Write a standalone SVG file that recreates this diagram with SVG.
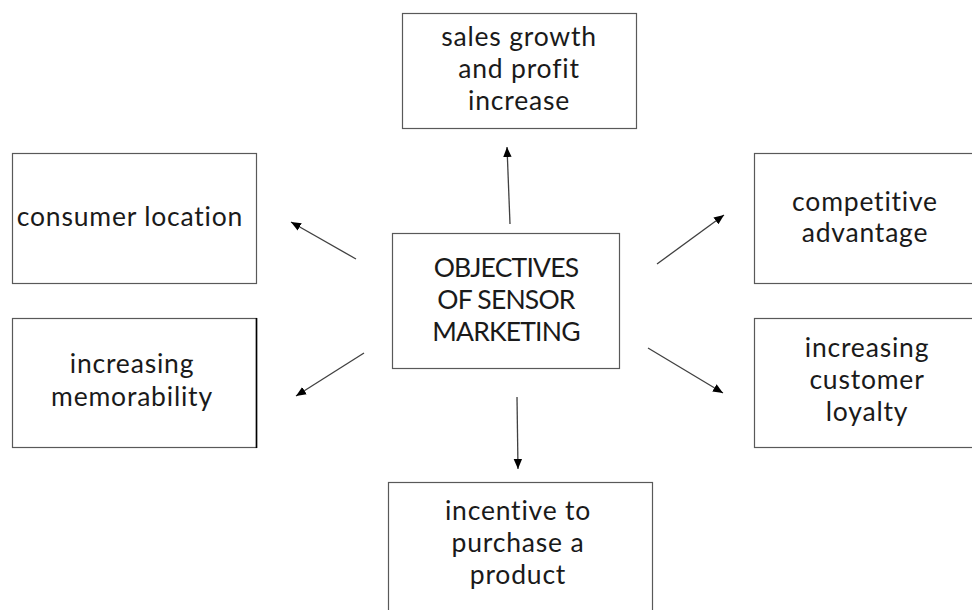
<svg xmlns="http://www.w3.org/2000/svg" width="972" height="610" viewBox="0 0 972 610">
  <style>
    .box { fill: #ffffff; stroke: #595959; stroke-width: 1.2; }
    .label { font-family: Lato, "Open Sans", sans-serif; font-size: 26.5px; fill: #1a1a1a; text-anchor: middle; font-variant-ligatures: none; letter-spacing: 0.8px; }
    .caps { letter-spacing: -0.8px; }
    .link { stroke: #404040; stroke-width: 1.3; fill: none; marker-end: url(#head); }
  </style>
  <defs>
    <marker id="head" markerUnits="userSpaceOnUse" markerWidth="12" markerHeight="10" refX="10" refY="5" orient="auto">
      <path d="M0,0.8 L10,5 L0,9.2 Z" fill="#000000"/>
    </marker>
  </defs>

  <rect x="0" y="0" width="972" height="610" fill="#ffffff"/>

  <g id="center">
    <rect class="box" x="392.5" y="233.5" width="227" height="135"/>
    <text class="label caps" x="506" y="277">OBJECTIVES</text>
    <text class="label caps" x="506" y="309">OF SENSOR</text>
    <text class="label caps" x="506" y="341">MARKETING</text>
  </g>

  <g id="sales-growth">
    <rect class="box" x="402.5" y="13.5" width="234" height="115"/>
    <text class="label" x="519" y="46">sales growth</text>
    <text class="label" x="519" y="78">and profit</text>
    <text class="label" x="519" y="110">increase</text>
  </g>

  <g id="consumer-location">
    <rect class="box" x="12.5" y="153.5" width="244" height="130"/>
    <text class="label" x="130" y="226">consumer location</text>
  </g>

  <g id="memorability">
    <rect class="box" x="12.5" y="318.5" width="244" height="129"/>
    <line x1="256.5" y1="318" x2="256.5" y2="448" stroke="#000000" stroke-width="1.6"/>
    <text class="label" x="132" y="373">increasing</text>
    <text class="label" x="132" y="406">memorability</text>
  </g>

  <g id="competitive-advantage">
    <rect class="box" x="754.5" y="153.5" width="230" height="130"/>
    <text class="label" x="865" y="211">competitive</text>
    <text class="label" x="865" y="242">advantage</text>
  </g>

  <g id="customer-loyalty">
    <rect class="box" x="754.5" y="318.5" width="230" height="129"/>
    <text class="label" x="867" y="357">increasing</text>
    <text class="label" x="867" y="389">customer</text>
    <text class="label" x="867" y="421">loyalty</text>
  </g>

  <g id="purchase-incentive">
    <rect class="box" x="388.5" y="482.5" width="264" height="140"/>
    <text class="label" x="518" y="520">incentive to</text>
    <text class="label" x="518" y="552">purchase a</text>
    <text class="label" x="518" y="584">product</text>
  </g>

  <g id="connectors">
    <line class="link" x1="510" y1="224" x2="507" y2="147"/>
    <line class="link" x1="356" y1="259" x2="291" y2="222"/>
    <line class="link" x1="364" y1="353" x2="296" y2="396"/>
    <line class="link" x1="657" y1="264" x2="724" y2="215"/>
    <line class="link" x1="648" y1="348" x2="723" y2="393"/>
    <line class="link" x1="517" y1="397" x2="518" y2="469"/>
  </g>
</svg>
